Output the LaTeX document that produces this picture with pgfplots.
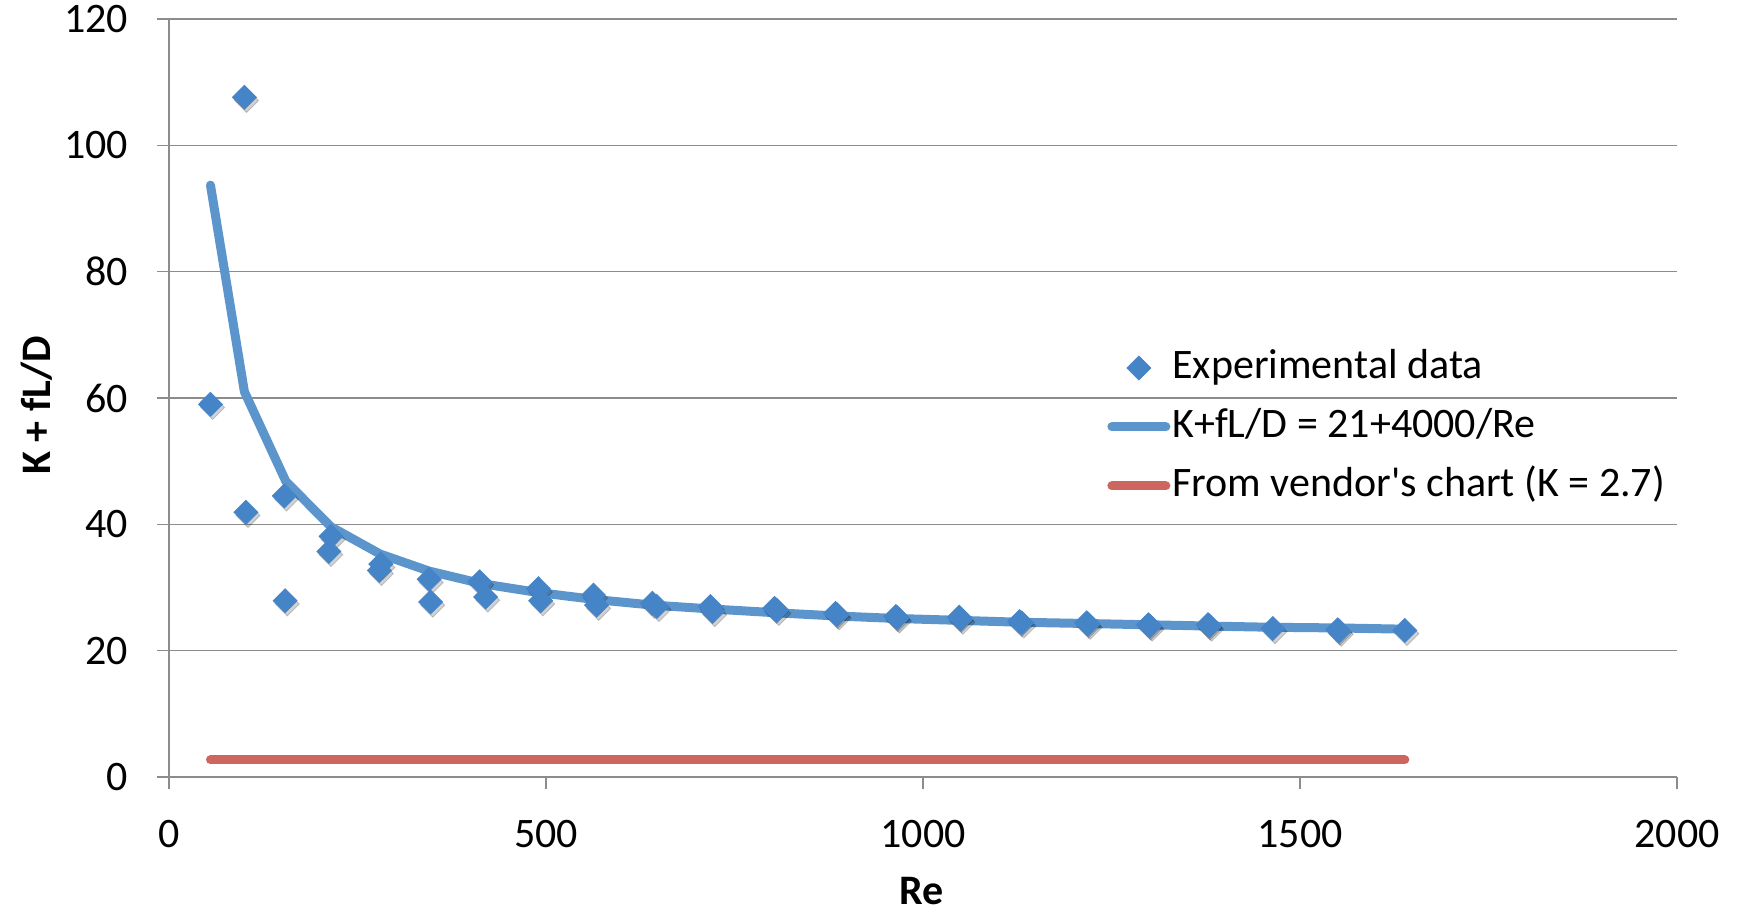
\documentclass[border=0pt]{standalone}
\usepackage{fontspec}
\setmainfont{Carlito}[Ligatures=TeXOff]
\usepackage{pgfplots}
\usepackage{pgfplotstable}
\pgfplotsset{compat=1.18}
\definecolor{xlblue}{RGB}{91,149,204}
\definecolor{xlmark}{RGB}{70,132,200}
\definecolor{xlred}{RGB}{205,102,95}
\definecolor{xlgrid}{RGB}{140,140,140}

\pgfplotstableread{
Re K
55 59.0
100 107.6
102 41.9
153 44.5
154 27.9
215 38.1
212 35.7
281 33.7
279 32.7
345 31.3
347 27.7
412 30.9
420 28.5
490 29.8
493 27.9
563 28.8
567 27.2
641 27.5
647 27.0
718 27.0
721 26.2
803 26.7
806 26.4
884 25.9
886 25.7
964 25.4
966 25.2
1048 25.3
1050 25.0
1128 24.6
1131 24.4
1217 24.4
1219 24.2
1299 24.1
1301 23.9
1378 24.1
1380 23.9
1464 23.5
1550 23.3
1552 23.1
1639 23.2
}\expdata

\pgfplotstableread{
Re K
55 93.7
100 61.0
155 46.8
215 39.6
280 35.3
345 32.6
415 30.6
490 29.2
565 28.1
643 27.2
720 26.6
805 26.0
884 25.5
964 25.1
1048 24.8
1129 24.5
1217 24.3
1299 24.1
1378 23.9
1464 23.7
1550 23.6
1639 23.4
}\fitdata

\pgfplotstableread{
Re K
55 2.7
100 2.7
155 2.7
215 2.7
280 2.7
345 2.7
415 2.7
490 2.7
565 2.7
643 2.7
720 2.7
805 2.7
884 2.7
964 2.7
1048 2.7
1129 2.7
1217 2.7
1299 2.7
1378 2.7
1464 2.7
1550 2.7
1639 2.7
}\vendordata

\begin{document}
\begin{tikzpicture}
\path[use as bounding box] (-84.5pt,-67.5pt) rectangle (786pt,388.5pt);
\begin{axis}[
  at={(0pt,0pt)}, anchor=south west,
  scale only axis, width=754pt, height=379pt,
  xmin=0, xmax=2000, ymin=0, ymax=120,
  xtick={0,500,1000,1500,2000}, ytick={0,20,...,120},
  axis x line=bottom, axis y line=left,
  axis line style={xlgrid, line width=0.8pt, -},
  ymajorgrids, grid style={xlgrid, line width=0.8pt},
  tick align=outside, major tick length=6pt,
  tick style={xlgrid, line width=0.8pt},
  font=\fontsize{21}{25}\selectfont,
  ticklabel style={font=\fontsize{21}{25}\selectfont},
  xticklabel style={yshift=-12pt},
  yticklabel style={xshift=-11pt},
  /pgf/number format/assume math mode=true,
  /pgf/number format/1000 sep={},
  xlabel={\bfseries Re}, ylabel={\bfseries K + fL/D},
  xlabel style={at={(axis description cs:0.499,-0.150)}, anchor=center, inner sep=0pt},
  ylabel style={at={(axis description cs:-0.0875,0.49)}, anchor=center},
  legend style={draw=none, fill=none, at={(axis description cs:0.622,0.5705)},
    anchor=north west, font=\fontsize{21}{25}\selectfont, row sep=6.5pt,
    column sep=0pt, inner sep=0pt,
    nodes={inner sep=1pt, text height=15.75pt, text depth=5.25pt}},
  legend cell align=left,
  clip=false,
]
\addlegendimage{only marks, mark=diamond*, mark size=6pt, color=xlmark,
  legend image code/.code={\draw[xlmark, mark=diamond*, mark size=6pt, mark options={xscale=1.33}] plot coordinates {(13.5pt,0pt)};}}
\addlegendentry{Experimental data}
\addplot[xlblue, line width=4.5pt, line cap=round, line join=round, mark=none,
  legend image code/.code={\draw[xlblue, line width=4.5pt, line cap=round] (0pt,0pt) -- (27pt,0pt);}]
  table[x=Re, y=K] {\fitdata};
\addlegendentry{K+fL/D = 21+4000/Re}
\addplot[xlred, line width=4.5pt, line cap=round, mark=none,
  legend image code/.code={\draw[xlred, line width=4.5pt, line cap=round] (0pt,0pt) -- (27pt,0pt);}]
  table[x=Re, y=K] {\vendordata};
\addlegendentry{From vendor's chart (K = 2.7)}
\addplot[only marks, mark=diamond*, mark size=6pt, color=black, opacity=0.18, forget plot,
  mark options={xscale=1.33}, every mark/.append style={xshift=0.8pt, yshift=-1.6pt}]
  table[x=Re, y=K] {\expdata};
\addplot[only marks, mark=diamond*, mark size=6pt, color=xlmark, forget plot,
  mark options={xscale=1.33}]
  table[x=Re, y=K] {\expdata};
\end{axis}
\end{tikzpicture}
\end{document}
